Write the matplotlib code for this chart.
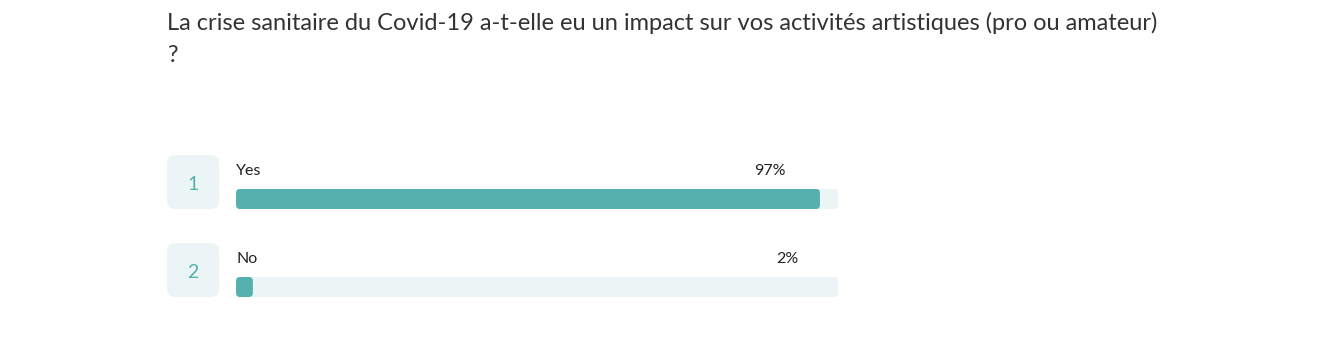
import matplotlib
matplotlib.use("Agg")
import matplotlib.pyplot as plt
from matplotlib.patches import FancyBboxPatch

plt.rcParams['font.family'] = ['Lato', 'DejaVu Sans']

title_lines = ["La crise sanitaire du Covid-19 a-t-elle eu un impact sur vos activités artistiques (pro ou amateur)", "?"]
ranks = ["1", "2"]
answers = ["Yes", "No"]
percents = [97, 2]
pct_labels = ["97%", "2%"]

# layout (pixels)
W, H = 1340, 341
row_y = [199, 287]          # centre of each bar
pct_x = [786, 798]          # right edge of the % labels
bar_h = 20
teal = "#55b0ae"
light = "#ebf5f6"

fig = plt.figure(figsize=(W / 100, H / 100), dpi=100)

# background axes in pixel coords for boxes and text
bg = fig.add_axes([0, 0, 1, 1])
bg.set_xlim(0, W)
bg.set_ylim(H, 0)
bg.axis("off")

for k, line in enumerate(title_lines):
    bg.text(167, 30 + 32 * k, line, fontsize=17, color="#333333", va="baseline")

for i, y in enumerate(row_y):
    box = FancyBboxPatch((167, y - 44), 52, 54,
                         boxstyle="round,pad=0,rounding_size=8",
                         fc=light, ec="none")
    bg.add_patch(box)
    bg.text(193, y - 14, ranks[i], fontsize=14, color=teal,
            ha="center", va="center")
    bg.text(236, y - 28, answers[i], fontsize=11.5, color="#222222",
            ha="left", va="center")
    bg.text(pct_x[i], y - 28, pct_labels[i], fontsize=11.5, color="#222222",
            ha="right", va="center")

# bar axes: x in percent, y in pixels
x0, x1 = 236, 838
ax = fig.add_axes([x0 / W, 0, (x1 - x0) / W, 1])
ax.set_xlim(0, 100)
ax.set_ylim(H, 0)
ax.axis("off")
asp = (x1 - x0) / 100.0
r = 4

for i, y in enumerate(row_y):
    track = FancyBboxPatch((0, y - bar_h / 2), 100, bar_h,
                           boxstyle="round,pad=0,rounding_size=%f" % (r / asp),
                           mutation_aspect=asp, fc=light, ec="none")
    ax.add_patch(track)
    bar = FancyBboxPatch((0, y - bar_h / 2), max(percents[i], 2.8), bar_h,
                         boxstyle="round,pad=0,rounding_size=%f" % (r / asp),
                         mutation_aspect=asp, fc=teal, ec="none")
    ax.add_patch(bar)

fig.savefig("out.png", dpi=100)
